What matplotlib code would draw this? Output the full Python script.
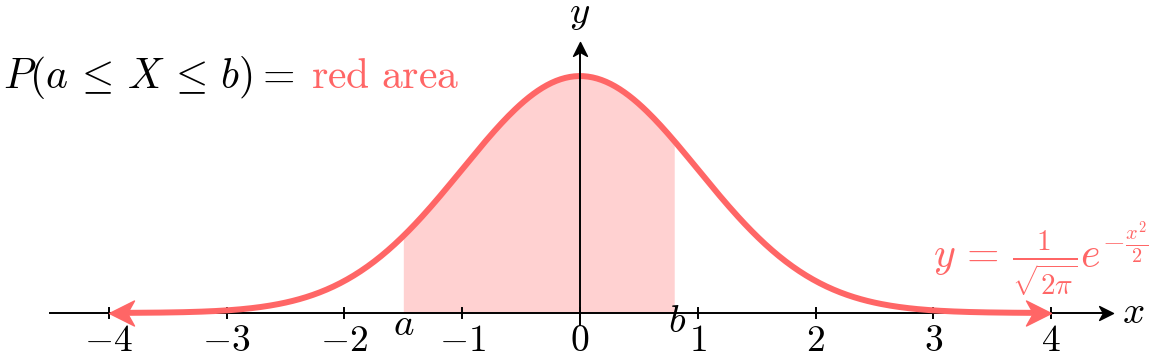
import numpy as np
import matplotlib.pyplot as plt
from matplotlib.path import Path

plt.rcParams['mathtext.fontset'] = 'cm'
plt.rcParams['font.family'] = 'serif'
plt.rcParams['font.serif'] = ['DejaVu Serif']

# donnees
a_val = -1.5
b_val = 0.8
ticks = [-4, -3, -2, -1, 0, 1, 2, 3, 4]
tick_labels = ['$-4$', '$-3$', '$-2$', '$-1$', '$0$', '$1$', '$2$', '$3$', '$4$']
x_curve_end = 4

ROUGE = '#ff6666'
ROSE = '#ffd1d1'


def densite(x):
    return np.exp(-x ** 2 / 2) / np.sqrt(2 * np.pi)


# fleches type "stealth"
def fleche(angle):
    v = np.array([[0, 0], [-1, 0.5], [-0.72, 0], [-1, -0.5], [0, 0]])
    c, s = np.cos(np.radians(angle)), np.sin(np.radians(angle))
    v = v @ np.array([[c, s], [-s, c]])
    return Path(v, [Path.MOVETO, Path.LINETO, Path.LINETO, Path.LINETO, Path.CLOSEPOLY])


fig = plt.figure(figsize=(11.68, 3.56), dpi=100)
ax = fig.add_axes([0, 0, 1, 1])
ax.set_xlim(-4.924, 4.992)
ax.set_ylim(-0.0724, 0.527)
ax.axis('off')

# zone rouge
xs_fill = np.linspace(a_val, b_val, 200)
ax.fill_between(xs_fill, 0, densite(xs_fill), color=ROSE, lw=0, zorder=1)

# axes
ax.plot([-4.5, 4.5], [0, 0], color='black', lw=1.4, zorder=2)
ax.plot(4.525, 0, marker=fleche(0), ms=20, color='black', zorder=2)
ax.plot([0, 0], [-0.02, 0.44], color='black', lw=1.4, zorder=4)
ax.plot(0, 0.456, marker=fleche(90), ms=20, color='black', zorder=4)

for t, lab in zip(ticks, tick_labels):
    ax.plot([t, t], [-0.0085, 0.0085], color='black', lw=1.4, zorder=2)
    ax.text(t, -0.064, lab, fontsize=27, ha='center', va='baseline')

ax.text(a_val, -0.037, '$a$', fontsize=28, ha='center', va='baseline')
ax.text(b_val + 0.02, -0.032, '$b$', fontsize=28, ha='center', va='baseline')
ax.text(4.7, 0, '$x$', fontsize=28, ha='center', va='center')
ax.text(0.0, 0.505, '$y$', fontsize=28, ha='center', va='center')

# courbe
xs = np.linspace(-x_curve_end + 0.15, x_curve_end - 0.15, 400)
ax.plot(xs, densite(xs), color=ROUGE, lw=4.3, solid_capstyle='butt', zorder=3)
ax.plot(x_curve_end, densite(x_curve_end), marker=fleche(0), ms=36, color=ROUGE, zorder=3)
ax.plot(-x_curve_end, densite(-x_curve_end), marker=fleche(180), ms=36, color=ROUGE, zorder=3)

# textes
ax.text(-4.9, 0.378, r'$P(a\,\leq\, X\,\leq\, b)=$', fontsize=30, ha='left', va='baseline')
ax.text(-2.28, 0.378, r'$\mathrm{red\ area}$', fontsize=30, ha='left', va='baseline', color=ROUGE)
ax.text(3.0, 0.076, r'$y\,=\,\frac{1}{\sqrt{2\pi}}e^{-\frac{x^2}{2}}$', fontsize=30,
        ha='left', va='baseline', color=ROUGE)

fig.savefig('out.png', dpi=100)
